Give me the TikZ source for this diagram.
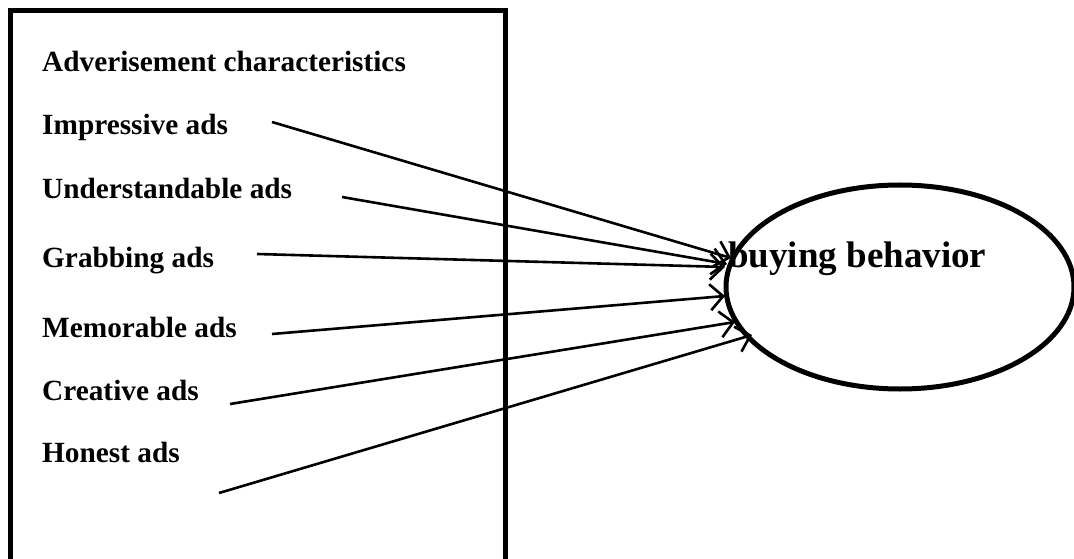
\documentclass[tikz,border=0pt]{standalone}
\usepackage{fontspec}
\setmainfont{Liberation Serif}
\usepackage{tikz}
\usetikzlibrary{arrows.meta,positioning,shapes.geometric}

\begin{document}
\begin{tikzpicture}[x=1pt,y=-1pt,lbl/.style={anchor=base west,inner sep=0pt,font=\fontsize{29.3}{31}\selectfont\bfseries},arr/.style={-{Straight Barb[length=13pt,width=26pt,line width=2.6pt]},line width=2.6pt}]
\useasboundingbox (0,0) rectangle (1074,559);
\draw[line width=5pt] (10,559)--(10,10.5)--(505,10.5)--(505,559);
\node[lbl] (head) at (42,72) {Adverisement characteristics};
\node[lbl] (imp) at (42,135) {Impressive ads};
\node[lbl] (und) at (42,198) {Understandable ads};
\node[lbl] (grab) at (42,267) {Grabbing ads};
\node[lbl] (mem) at (42,337) {Memorable ads};
\node[lbl] (cre) at (42,400) {Creative ads};
\node[lbl] (hon) at (42,462) {Honest ads};
\node[draw,ellipse,line width=5pt,minimum width=348pt,minimum height=204pt,inner sep=0pt] (bb) at (900,287) {};
\node[anchor=base west,inner sep=0pt,font=\fontsize{37}{40}\selectfont\bfseries] (bbtext) at (728,267) {buying behavior};
\coordinate (imp-s) at (272,122);
\coordinate (und-s) at (342,197);
\coordinate (grab-s) at (257,254);
\coordinate (mem-s) at (272,334);
\coordinate (cre-s) at (230,404);
\coordinate (hon-s) at (219,493);
\coordinate (imp-e) at (731,258);
\coordinate (und-e) at (727,264);
\coordinate (grab-e) at (725,267);
\coordinate (mem-e) at (725,296);
\coordinate (cre-e) at (735,322);
\coordinate (hon-e) at (752,335);
\draw[arr] (imp-s)--(imp-e);
\draw[arr] (und-s)--(und-e);
\draw[arr] (grab-s)--(grab-e);
\draw[arr] (mem-s)--(mem-e);
\draw[arr] (cre-s)--(cre-e);
\draw[arr] (hon-s)--(hon-e);
\end{tikzpicture}
\end{document}
